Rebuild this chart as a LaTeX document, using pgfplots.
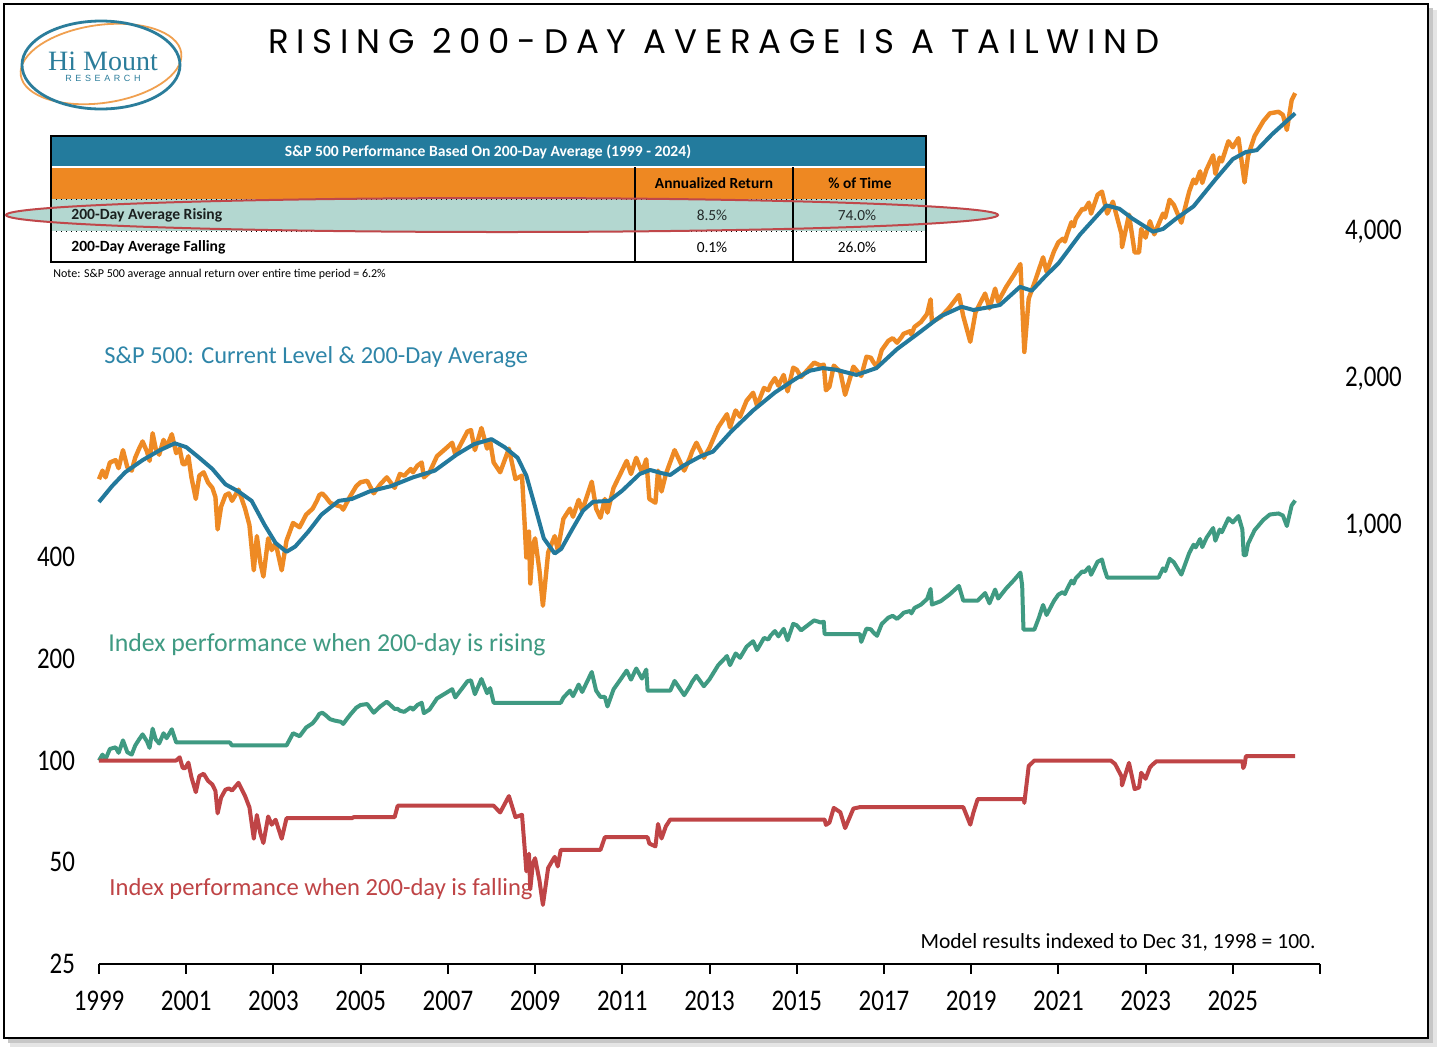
\documentclass[border=0pt]{standalone}
\usepackage{pgfplots}
\pgfplotsset{compat=1.18}
\usepackage{fontspec}
\setmainfont{Carlito}
\newfontfamily\titlefont[LetterSpace=23]{Poppins}
\newfontfamily\tickfont[FakeStretch=0.83]{Carlito}
\newfontfamily\logoserif{Liberation Serif}
\newfontfamily\logosans[LetterSpace=40]{Liberation Sans}
\definecolor{spor}{HTML}{EE8A24}
\definecolor{mablue}{HTML}{23799C}
\definecolor{gr}{HTML}{3F9A82}
\definecolor{rd}{HTML}{BF4446}
\definecolor{tblue}{HTML}{237B9D}
\definecolor{torange}{HTML}{EE8822}
\definecolor{tteal}{HTML}{B3D7D0}
\definecolor{splab}{HTML}{2E85A8}
\definecolor{logoblue}{HTML}{2B7D9B}
\definecolor{logoorange}{HTML}{F0A050}
\definecolor{ellred}{HTML}{C0474A}
\begin{document}
\begin{tikzpicture}
\begin{scope}[x=0.5pt,y=-0.5pt]
\useasboundingbox (0,0) rectangle (1441,1051);
\fill[black!10] (10,10) rectangle (1437,1047);
\fill[black!22] (8,8) rectangle (1433,1043);
\fill[white] (4,4) rectangle (1428,1038);
\draw[line width=1.3pt] (4,4) rectangle (1428,1038);
% logo
\draw[logoorange, line width=0.9pt, rotate around={8:(101,64)}] (101,64) ellipse [x radius=81, y radius=39];
\draw[logoblue, line width=1.4pt] (101,65) ellipse [x radius=79, y radius=44];
\node[logoblue, font=\logoserif\fontsize{14}{14}\selectfont, inner sep=0] at (103,61) {Hi Mount};
\node[logoblue, font=\logosans\fontsize{4.5}{5}\selectfont, inner sep=0] at (103,78) {RESEARCH};
% title
\node[font=\titlefont\fontsize{17}{17}\selectfont, inner sep=0] at (714,41) {RISING 200-DAY AVERAGE IS A TAILWIND};
% table
\fill[tblue] (51,136) rectangle (926,167);
\fill[torange] (51,167) rectangle (926,199);
\draw[white, line width=0.6pt] (51,167) -- (926,167);
\fill[tteal] (51,199) rectangle (926,231);
\fill[tteal] (502,215) ellipse [x radius=496, y radius=17];
\draw[line width=1pt] (635,167) -- (635,262);
\draw[line width=1pt] (793,167) -- (793,262);
\draw[dotted, line width=0.5pt] (51,199) -- (926,199);
\draw[dotted, line width=0.5pt] (51,231) -- (926,231);
\draw[line width=1pt] (51,136) rectangle (926,262);
\draw[ellred, line width=1pt] (502,215) ellipse [x radius=496, y radius=17];
\node[white, font=\bfseries\fontsize{7.8}{9}\selectfont] at (488,152) {S\&P 500 Performance Based On 200-Day Average (1999 - 2024)};
\node[font=\bfseries\fontsize{7.7}{9}\selectfont] at (714,183) {Annualized Return};
\node[font=\bfseries\fontsize{7.7}{9}\selectfont] at (860,183) {\% of Time};
\node[anchor=west, inner sep=0, text=black!85!tteal, font=\bfseries\fontsize{7.8}{9}\selectfont] at (71,215) {200-Day Average Rising};
\node[text=black!80!tteal, font=\fontsize{7.7}{9}\selectfont] at (712,215) {8.5\%};
\node[text=black!80!tteal, font=\fontsize{7.7}{9}\selectfont] at (857,215) {74.0\%};
\node[anchor=west, inner sep=0, font=\bfseries\fontsize{7.8}{9}\selectfont] at (71,247) {200-Day Average Falling};
\node[font=\fontsize{7.7}{9}\selectfont] at (712,247) {0.1\%};
\node[font=\fontsize{7.7}{9}\selectfont] at (857,247) {26.0\%};
\node[anchor=west, inner sep=0, font=\fontsize{6}{7}\selectfont] at (53,274) {Note: S\&P 500 average annual return over entire time period = 6.2\%};
\end{scope}

\begin{axis}[
  at={(49.5pt,-482pt)}, anchor=south west,
  width=610.5pt, height=439.75pt, scale only axis,
  xmin=1999, xmax=2027,
  ymode=log, ymin=25, ymax=10000,
  axis x line*=bottom, axis y line*=left,
  x axis line style={-, line width=1pt},
  y axis line style={draw=none},
  xtick={1999,2001,...,2027},
  xticklabels={1999,2001,2003,2005,2007,2009,2011,2013,2015,2017,2019,2021,2023,2025,{}},
  xtick style={line width=1pt, black},
  tick align=outside, major tick length=5pt,
  ytick={25,50,100,200,400}, yticklabels={25,50,100,200,400},
  ytick style={draw=none},
  minor tick num=0,
  xticklabel style={font=\tickfont\fontsize{15}{15}\selectfont, yshift=-5pt},
  yticklabel style={font=\tickfont\fontsize{15}{15}\selectfont, xshift=-3.5pt},
  clip=false,
]
% green: index when 200-day rising
\addplot[gr, line width=2pt, line join=round] coordinates {
(1999.00,100.0) (1999.08,104.1) (1999.15,100.9) (1999.25,108.2) (1999.38,109.4) (1999.45,105.4) (1999.55,114.7) (1999.65,105.8) (1999.75,104.1) (1999.83,110.7) (1999.92,115.5) (2000.00,119.5) (2000.10,113.9) (2000.16,109.0) (2000.23,124.2) (2000.30,115.5) (2000.38,112.3) (2000.48,120.4) (2000.55,116.4) (2000.67,123.7) (2000.77,113.1)
(2002.00,113.1) (2002.05,110.8) (2003.30,110.8)
(2003.45,120.4) (2003.60,118.0) (2003.75,125.2) (2003.90,128.9) (2004.00,133.9) (2004.05,137.3) (2004.12,138.5) (2004.20,136.1) (2004.30,132.5) (2004.40,131.3) (2004.55,130.1) (2004.60,128.3) (2004.75,136.1) (2004.90,143.3) (2005.00,146.0) (2005.15,146.9) (2005.30,138.5) (2005.45,144.5) (2005.60,149.3) (2005.78,142.1) (2005.85,142.1)
(2005.90,140.4) (2006.00,139.3) (2006.15,143.7) (2006.20,141.5) (2006.30,145.9) (2006.40,148.2) (2006.45,138.1) (2006.58,141.5) (2006.75,152.6) (2006.95,158.2) (2007.10,162.6) (2007.17,153.7) (2007.45,171.6) (2007.53,172.7) (2007.62,157.1) (2007.77,174.3) (2007.90,158.2) (2007.97,163.8) (2008.05,148.2)
(2009.59,148.2) (2009.65,153.5) (2009.80,161.0) (2009.87,155.0) (2010.00,167.8) (2010.08,159.5) (2010.30,182.8) (2010.40,161.0) (2010.50,154.2) (2010.60,154.2)
(2010.66,144.5) (2010.80,162.4) (2010.95,173.0) (2011.10,184.5) (2011.20,173.5) (2011.32,187.2) (2011.45,174.8) (2011.55,185.8) (2011.58,161.0)
(2012.10,161.0) (2012.20,172.0) (2012.42,156.1) (2012.55,165.9) (2012.60,170.8) (2012.70,178.1) (2012.87,165.9) (2013.00,173.9) (2013.20,191.5) (2013.40,203.7) (2013.47,191.5) (2013.60,207.4) (2013.70,201.3) (2013.85,217.1) (2014.00,225.4) (2014.09,212.2) (2014.25,230.5) (2014.35,228.1) (2014.40,234.2) (2014.50,241.5) (2014.58,233.0) (2014.70,245.2) (2014.79,226.9) (2014.92,253.7) (2015.00,251.3) (2015.10,242.7) (2015.40,259.8) (2015.55,256.1) (2015.62,257.4) (2015.64,236.6)
(2016.45,236.6) (2016.48,224.3) (2016.60,245.6) (2016.70,244.4) (2016.75,240.0) (2016.84,233.8) (2016.95,253.4) (2017.10,264.6) (2017.20,268.0) (2017.30,262.4) (2017.40,269.1) (2017.45,273.6) (2017.60,277.0) (2017.63,272.5) (2017.70,282.6) (2017.85,289.3) (2017.99,300.5) (2018.07,321.8) (2018.10,289.3) (2018.30,296.0) (2018.50,309.5) (2018.72,328.5) (2018.82,297.1)
(2019.15,297.1) (2019.32,313.0) (2019.42,291.8) (2019.55,320.5) (2019.62,301.4) (2019.80,322.6) (2019.99,342.7) (2020.13,359.7) (2020.17,330.0) (2020.20,244.0)
(2020.45,244.0) (2020.55,263.8) (2020.65,288.5) (2020.73,269.5) (2020.90,296.7) (2021.00,309.6) (2021.10,314.9) (2021.15,310.8) (2021.20,321.5) (2021.30,340.4) (2021.35,333.8) (2021.40,346.2) (2021.55,362.7) (2021.60,361.0) (2021.70,373.4) (2021.75,354.4) (2021.90,387.4) (2022.00,393.2) (2022.05,370.9) (2022.12,347.9)
(2023.30,347.9) (2023.40,370.3) (2023.45,363.4) (2023.55,395.3) (2023.65,385.8) (2023.70,376.3) (2023.82,354.8) (2024.00,410.7) (2024.10,434.9) (2024.15,427.1) (2024.25,452.1) (2024.30,428.0) (2024.40,456.4) (2024.55,487.4) (2024.60,446.9) (2024.70,482.2) (2024.75,473.6) (2024.90,521.0) (2025.00,506.3) (2025.13,528.7) (2025.22,482.2) (2025.25,405.0) (2025.30,405.0)
(2025.35,437.5) (2025.50,480.1) (2025.70,515.0) (2025.85,534.3) (2026.05,538.2) (2026.15,530.5) (2026.24,494.1) (2026.35,568.4) (2026.43,587.8)
};
% red: index when 200-day falling
\addplot[rd, line width=2pt, line join=round] coordinates {
(1999.00,100) (2000.77,100) (2000.85,102.2) (2000.92,95.0) (2000.98,95.0) (2001.05,98.6) (2001.12,89.2) (2001.22,80.6) (2001.30,89.9) (2001.40,91.4) (2001.50,87.1) (2001.60,84.9) (2001.67,81.3) (2001.72,69.8) (2001.80,77.7) (2001.90,82.0) (2001.98,82.7) (2002.05,81.5) (2002.20,85.9) (2002.35,78.5) (2002.45,72.7) (2002.55,58.7) (2002.62,69.0) (2002.70,60.9) (2002.77,57.0) (2002.88,68.3) (2002.96,64.6) (2003.05,66.8) (2003.19,58.7) (2003.30,67.5)
(2004.80,67.5) (2004.84,68.0) (2005.78,68.0) (2005.85,73.5)
(2008.05,73.5) (2008.20,70.2) (2008.40,78.5) (2008.55,68.0) (2008.70,69.1) (2008.76,55.3) (2008.80,47.0) (2008.86,53.0) (2008.89,41.6) (2008.95,49.7) (2009.00,51.4) (2009.10,44.2) (2009.18,37.4) (2009.30,48.1) (2009.45,51.9) (2009.52,48.6) (2009.59,54.4)
(2010.50,54.4) (2010.60,59.3)
(2011.58,59.3) (2011.62,56.8) (2011.76,55.7) (2011.82,64.9) (2011.90,58.8) (2012.00,63.9) (2012.10,66.9)
(2015.64,66.9) (2015.67,64.5) (2015.75,65.5) (2015.85,72.4) (2016.00,70.3) (2016.11,63.1) (2016.30,72.1) (2016.45,72.8)
(2018.82,72.8) (2018.98,64.6) (2019.05,70.0) (2019.15,76.9)
(2020.21,76.9) (2020.22,74.9) (2020.32,96.3) (2020.45,100.0)
(2022.20,100.0) (2022.30,97.7) (2022.45,89.7) (2022.46,84.4) (2022.62,98.4) (2022.75,82.3) (2022.85,83.2) (2022.90,92.0) (2023.00,88.3) (2023.10,95.4) (2023.15,97.0) (2023.25,99.5)
(2025.22,99.5) (2025.24,95.0) (2025.27,97.0) (2025.30,103.0) (2026.43,103.0)
};
\end{axis}

\begin{axis}[
  at={(49.5pt,-482pt)}, anchor=south west,
  width=610.5pt, height=439.75pt, scale only axis,
  xmin=1999, xmax=2027,
  ymode=log, ymin=125, ymax=7906,
  axis x line=none, axis y line*=right,
  y axis line style={draw=none},
  ytick={1000,2000,4000}, yticklabels={{1,000},{2,000},{4,000}},
  ytick style={draw=none},
  tick align=outside, major tick length=5pt,
  yticklabel style={font=\tickfont\fontsize{15}{15}\selectfont, anchor=west, xshift=4pt, yshift=-1.5pt},
  clip=false,
]
% S&P 500
\addplot[spor, line width=2.2pt, line join=round] coordinates {
(1999.00,1229) (1999.08,1280) (1999.15,1240) (1999.25,1330) (1999.38,1345) (1999.45,1295) (1999.55,1410) (1999.65,1300) (1999.75,1280) (1999.83,1360) (1999.92,1420) (2000.00,1469) (2000.10,1400) (2000.16,1340) (2000.23,1527) (2000.30,1420) (2000.38,1380) (2000.48,1480) (2000.55,1430) (2000.67,1520) (2000.77,1390) (2000.85,1420) (2000.92,1320) (2000.98,1320)
(2001.05,1370) (2001.12,1240) (2001.22,1120) (2001.30,1250) (2001.40,1270) (2001.50,1210) (2001.60,1180) (2001.67,1130) (2001.72,970) (2001.80,1080) (2001.90,1140) (2001.98,1150)
(2002.05,1110) (2002.20,1170) (2002.35,1070) (2002.45,990) (2002.55,800) (2002.62,940) (2002.70,830) (2002.77,777) (2002.88,930) (2002.96,880)
(2003.05,910) (2003.19,800) (2003.30,920) (2003.45,1000) (2003.60,980) (2003.75,1040) (2003.90,1070) (2004.00,1112) (2004.05,1140) (2004.12,1150) (2004.20,1130) (2004.30,1100) (2004.40,1090) (2004.55,1080) (2004.60,1065) (2004.75,1130) (2004.90,1190)
(2005.00,1212) (2005.15,1220) (2005.30,1150) (2005.45,1200) (2005.60,1240) (2005.78,1180) (2005.90,1260) (2006.00,1250) (2006.15,1290) (2006.20,1270) (2006.30,1310) (2006.40,1330) (2006.45,1240) (2006.58,1270) (2006.75,1370) (2006.95,1420)
(2007.10,1460) (2007.17,1380) (2007.45,1540) (2007.53,1550) (2007.62,1410) (2007.77,1565) (2007.90,1420) (2007.97,1470) (2008.05,1330) (2008.20,1270) (2008.40,1420) (2008.55,1230) (2008.70,1250) (2008.76,1000) (2008.80,850) (2008.86,960) (2008.89,752) (2008.95,900)
(2009.00,930) (2009.10,800) (2009.18,677) (2009.30,870) (2009.45,940) (2009.52,880) (2009.65,1020) (2009.80,1070) (2009.87,1030) (2010.00,1115) (2010.08,1060) (2010.30,1215) (2010.40,1070) (2010.50,1025) (2010.60,1120) (2010.66,1050) (2010.80,1180) (2010.95,1257)
(2011.10,1340) (2011.20,1260) (2011.32,1360) (2011.45,1270) (2011.55,1350) (2011.62,1120) (2011.76,1100) (2011.82,1280) (2011.90,1160) (2012.00,1260) (2012.20,1410) (2012.42,1280) (2012.55,1360) (2012.60,1400) (2012.70,1460) (2012.87,1360)
(2013.00,1426) (2013.20,1570) (2013.40,1670) (2013.47,1570) (2013.60,1700) (2013.70,1650) (2013.85,1780) (2014.00,1848) (2014.09,1740) (2014.25,1890) (2014.35,1870) (2014.40,1920) (2014.50,1980) (2014.58,1910) (2014.70,2010) (2014.79,1860) (2014.92,2080)
(2015.00,2060) (2015.10,1990) (2015.40,2130) (2015.55,2100) (2015.62,2110) (2015.67,1870) (2015.75,1900) (2015.85,2100) (2016.00,2040) (2016.11,1830) (2016.30,2090) (2016.48,2000) (2016.60,2190) (2016.70,2180) (2016.75,2140) (2016.84,2085) (2016.95,2260)
(2017.10,2360) (2017.20,2390) (2017.30,2340) (2017.40,2400) (2017.45,2440) (2017.60,2470) (2017.63,2430) (2017.70,2520) (2017.85,2580) (2017.99,2680) (2018.07,2870) (2018.10,2580) (2018.30,2640) (2018.50,2760) (2018.72,2930) (2018.82,2650) (2018.98,2350)
(2019.10,2700) (2019.32,2950) (2019.42,2750) (2019.55,3020) (2019.62,2840) (2019.80,3040) (2019.99,3230) (2020.13,3390) (2020.22,2240) (2020.32,2880) (2020.45,3100) (2020.65,3500) (2020.73,3270) (2020.90,3600)
(2021.00,3756) (2021.10,3820) (2021.15,3770) (2021.20,3900) (2021.30,4130) (2021.35,4050) (2021.40,4200) (2021.55,4400) (2021.60,4380) (2021.70,4530) (2021.75,4300) (2021.90,4700) (2022.00,4770) (2022.12,4300) (2022.25,4550) (2022.45,3900) (2022.46,3670) (2022.62,4280) (2022.75,3580) (2022.85,3580) (2022.90,4000)
(2023.00,3840) (2023.10,4150) (2023.20,3900) (2023.40,4300) (2023.45,4220) (2023.55,4590) (2023.65,4480) (2023.70,4370) (2023.82,4120) (2024.00,4770) (2024.10,5050) (2024.15,4960) (2024.25,5250) (2024.30,4970) (2024.40,5300) (2024.55,5660) (2024.60,5190) (2024.70,5600) (2024.75,5500) (2024.90,6050)
(2025.00,5880) (2025.13,6140) (2025.27,4980) (2025.35,5650) (2025.50,6200) (2025.70,6650) (2025.85,6900) (2026.05,6950) (2026.15,6850) (2026.24,6380) (2026.35,7340) (2026.43,7590)
};
% 200-day average
\addplot[mablue, line width=2pt, line join=round] coordinates {
(1999.00,1104) (1999.30,1190) (1999.60,1270) (2000.00,1345) (2000.40,1410) (2000.74,1456) (2001.00,1430) (2001.30,1360) (2001.60,1290) (2001.90,1200) (2002.20,1160) (2002.50,1110) (2002.80,990) (2003.05,910) (2003.30,873) (2003.50,895) (2003.80,960)
(2004.10,1040) (2004.50,1110) (2004.80,1120) (2005.20,1160) (2005.70,1190) (2006.20,1240) (2006.70,1280) (2007.20,1380) (2007.60,1450) (2008.00,1485) (2008.30,1430) (2008.60,1360) (2008.80,1250) (2009.00,1080) (2009.20,930) (2009.45,866) (2009.60,885) (2009.85,970)
(2010.10,1060) (2010.33,1105) (2010.70,1110) (2011.00,1165) (2011.40,1260) (2011.64,1284) (2011.90,1265) (2012.10,1254) (2012.40,1310) (2012.80,1370) (2013.08,1400) (2013.50,1540) (2014.00,1700) (2014.50,1850) (2015.00,1980) (2015.30,2050) (2015.60,2076) (2015.90,2060)
(2016.37,2010) (2016.83,2076) (2017.30,2270) (2017.80,2450) (2018.30,2650) (2018.78,2772) (2019.05,2730) (2019.35,2760) (2019.66,2795) (2020.12,3045) (2020.39,2990) (2020.70,3200) (2021.00,3400) (2021.50,3900) (2022.10,4470) (2022.40,4400) (2022.70,4200)
(2023.17,3950) (2023.40,4000) (2023.70,4200) (2024.10,4450) (2024.60,5050) (2025.00,5560) (2025.30,5750) (2025.55,5800) (2025.90,6250) (2026.43,6900)
};
\end{axis}

\begin{scope}[x=0.5pt,y=-0.5pt]
\node[anchor=west, inner sep=0, text=splab, font=\fontsize{12.2}{13}\selectfont] at (104,357) {S\&P 500: Current Level \& 200-Day Average};
\node[anchor=west, inner sep=0, text=gr, font=\fontsize{12.9}{14}\selectfont] at (108,645) {Index performance when 200-day is rising};
\node[anchor=west, inner sep=0, text=rd, font=\fontsize{12.3}{13}\selectfont] at (109,889) {Index performance when 200-day is falling};
\node[anchor=east, inner sep=0, font=\fontsize{10.8}{12}\selectfont] at (1316,942) {Model results indexed to Dec 31, 1998 = 100.};
\end{scope}
\end{tikzpicture}
\end{document}
